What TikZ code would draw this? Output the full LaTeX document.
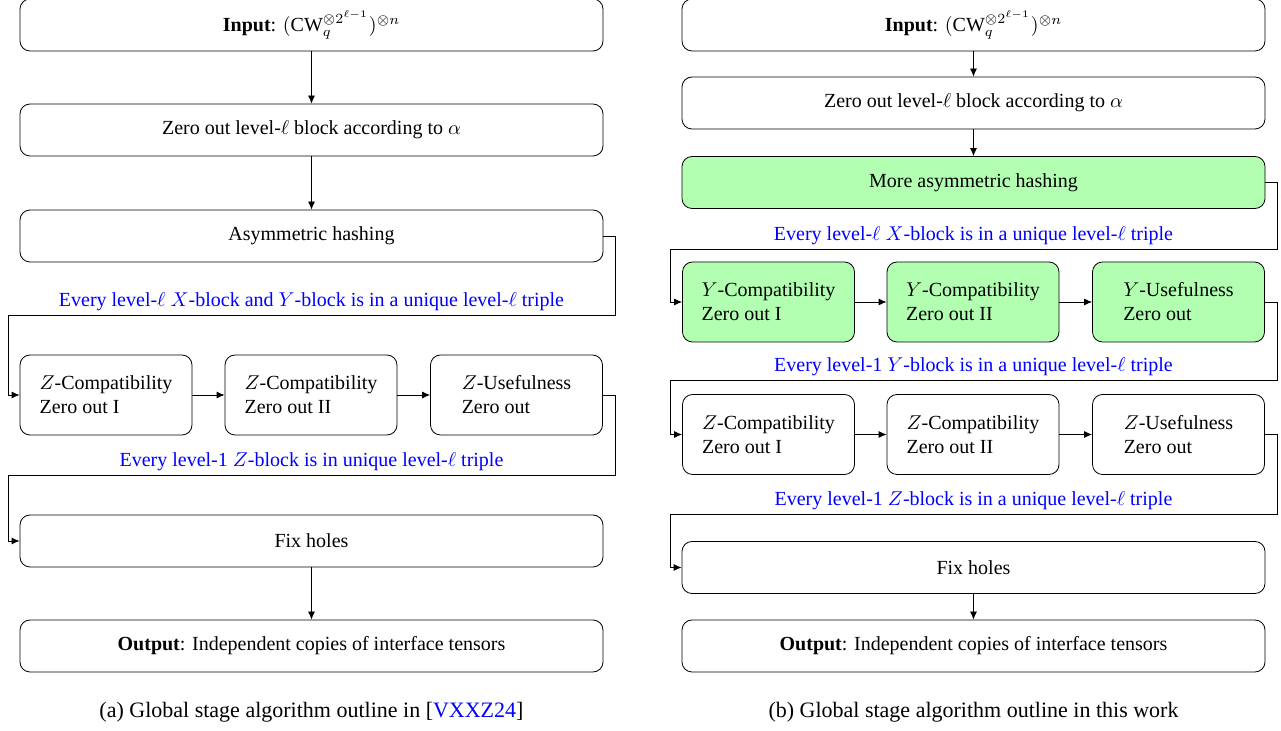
\documentclass[tikz,border=0pt]{standalone}
\usepackage{fontspec}
\setmainfont{LiberationSerif}[Extension=.ttf, UprightFont=*-Regular, BoldFont=*-Bold, ItalicFont=*-Italic, BoldItalicFont=*-BoldItalic]
\usepackage{xcolor}
\usetikzlibrary{arrows.meta}

\tikzset{
  stage/.style={draw, rounded corners=5pt, minimum width=291.5pt, minimum height=26pt, inner sep=2pt},
  substage/.style={draw, rounded corners=5pt, minimum width=86pt, minimum height=40pt, align=left, inner sep=2pt},
  hashed/.style={fill=green!30},
  flow/.style={-{Latex[length=4pt,width=3.5pt]}},
  lbl/.style={text=blue, above, inner sep=2pt},
  capt/.style={font=\fontsize{11}{13}\selectfont}
}

\begin{document}
\begin{tikzpicture}[x=0.5pt, y=-0.5pt]
  \useasboundingbox (0,0) rectangle (1281,731);

  % (a) outline of [VXXZ24]
  \node[stage] (inA) at (311.5,25) {\textbf{Input}: $(\mathrm{CW}_q^{\otimes 2^{\ell-1}})^{\otimes n}$};
  \node[stage] (zeroA) at (311.5,130) {Zero out level-$\ell$ block according to $\alpha$};
  \node[stage] (hashA) at (311.5,236) {Asymmetric hashing};
  \node[substage] (zA1) at (106,395) {$Z$-Compatibility\\Zero out I};
  \node[substage] (zA2) at (311,395) {$Z$-Compatibility\\Zero out II};
  \node[substage] (zA3) at (516.5,395) {$Z$-Usefulness\\Zero out};
  \node[stage] (fixA) at (311.5,541) {Fix holes};
  \node[stage] (outA) at (311.5,646) {\textbf{Output}: Independent copies of interface tensors};

  \coordinate (kA1) at (615,315);
  \coordinate (kA2) at (8,315);
  \coordinate (kA3) at (615,475);
  \coordinate (kA4) at (8,475);

  \draw[flow] (inA) -- (zeroA);
  \draw[flow] (zeroA) -- (hashA);
  \draw[flow] (hashA.east) -| (kA1) -- node[lbl] {Every level-$\ell$ $X$-block and $Y$-block is in a unique level-$\ell$ triple} (kA2) |- (zA1.west);
  \draw[flow] (zA1) -- (zA2);
  \draw[flow] (zA2) -- (zA3);
  \draw[flow] (zA3.east) -| (kA3) -- node[lbl] {Every level-1 $Z$-block is in unique level-$\ell$ triple} (kA4) |- (fixA.west);
  \draw[flow] (fixA) -- (outA);

  \node[capt] (captA) at (311.5,712) {(a) Global stage algorithm outline in [\textcolor{blue}{VXXZ24}]};

  % (b) outline of this work
  \node[stage] (inB) at (973.5,25) {\textbf{Input}: $(\mathrm{CW}_q^{\otimes 2^{\ell-1}})^{\otimes n}$};
  \node[stage] (zeroB) at (973.5,103) {Zero out level-$\ell$ block according to $\alpha$};
  \node[stage, hashed] (hashB) at (973.5,182.5) {More asymmetric hashing};
  \node[substage, hashed] (yB1) at (768.5,302) {$Y$-Compatibility\\Zero out I};
  \node[substage, hashed] (yB2) at (973,302) {$Y$-Compatibility\\Zero out II};
  \node[substage, hashed] (yB3) at (1178.5,302) {$Y$-Usefulness\\Zero out};
  \node[substage] (zB1) at (768.5,434.5) {$Z$-Compatibility\\Zero out I};
  \node[substage] (zB2) at (973,434.5) {$Z$-Compatibility\\Zero out II};
  \node[substage] (zB3) at (1178.5,434.5) {$Z$-Usefulness\\Zero out};
  \node[stage] (fixB) at (973.5,567.5) {Fix holes};
  \node[stage] (outB) at (973.5,646) {\textbf{Output}: Independent copies of interface tensors};

  \coordinate (kB1) at (1277,249);
  \coordinate (kB2) at (670,249);
  \coordinate (kB3) at (1277,380);
  \coordinate (kB4) at (670,380);
  \coordinate (kB5) at (1277,514);
  \coordinate (kB6) at (670,514);

  \draw[flow] (inB) -- (zeroB);
  \draw[flow] (zeroB) -- (hashB);
  \draw[flow] (hashB.east) -| (kB1) -- node[lbl] {Every level-$\ell$ $X$-block is in a unique level-$\ell$ triple} (kB2) |- (yB1.west);
  \draw[flow] (yB1) -- (yB2);
  \draw[flow] (yB2) -- (yB3);
  \draw[flow] (yB3.east) -| (kB3) -- node[lbl] {Every level-1 $Y$-block is in a unique level-$\ell$ triple} (kB4) |- (zB1.west);
  \draw[flow] (zB1) -- (zB2);
  \draw[flow] (zB2) -- (zB3);
  \draw[flow] (zB3.east) -| (kB5) -- node[lbl] {Every level-1 $Z$-block is in a unique level-$\ell$ triple} (kB6) |- (fixB.west);
  \draw[flow] (fixB) -- (outB);

  \node[capt] (captB) at (973.5,712) {(b) Global stage algorithm outline in this work};
\end{tikzpicture}
\end{document}
